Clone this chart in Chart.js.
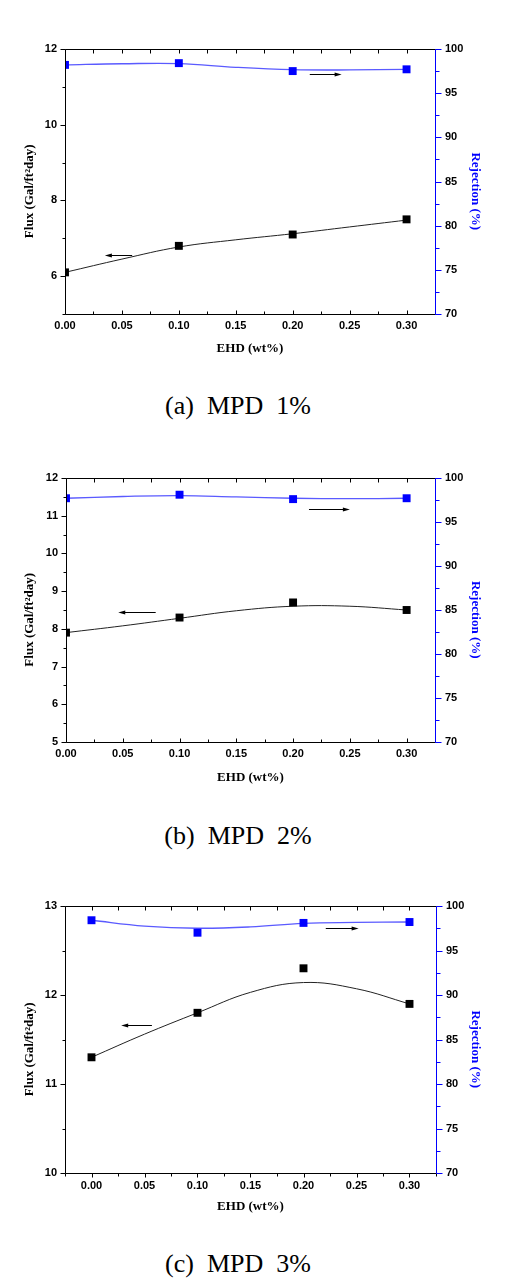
<!DOCTYPE html>
<html>
<head>
<meta charset="utf-8">
<script src="https://cdn.jsdelivr.net/npm/chart.js@4.4.1/dist/chart.umd.min.js"></script>
<style>
body { margin: 0; background: #fff; width: 517px; height: 1288px; position: relative; overflow: hidden; }
canvas { position: absolute; left: 0; }
.cap { position: absolute; left: 0; width: 476px; text-align: center; font-family: "Liberation Serif", serif; font-size: 26px; line-height: 30px; white-space: pre; color: #000; }
</style>
</head>
<body>
<canvas id="chart-a" width="517" height="360" style="top:0px"></canvas>
<div class="cap" style="top:391px">(a)  MPD  1%</div>
<canvas id="chart-b" width="517" height="360" style="top:429px"></canvas>
<div class="cap" style="top:821px">(b)  MPD  2%</div>
<canvas id="chart-c" width="517" height="362" style="top:857px"></canvas>
<div class="cap" style="top:1249px">(c)  MPD  3%</div>
<script>
let ehd = [0, 0.1, 0.2, 0.3];
let ehdFit = [0, 0.05, 0.1, 0.15, 0.2, 0.25, 0.3];

// (a) MPD 1%
let fluxA = [6.1, 6.8, 7.1, 7.5];
let rejA = [98.2, 98.4, 97.5, 97.7];
let fluxFitA = [6.1, 6.45, 6.77, 6.96, 7.12, 7.3, 7.48];
let rejFitA = [98.2, 98.33, 98.35, 97.93, 97.66, 97.63, 97.7];

// (b) MPD 2%
let fluxB = [7.9, 8.3, 8.7, 8.5];
let rejB = [97.7, 98.1, 97.6, 97.7];
let fluxFitB = [7.9, 8.08, 8.28, 8.48, 8.6, 8.6, 8.5];
let rejFitB = [97.7, 97.9, 98.0, 97.85, 97.7, 97.65, 97.7];

// (c) MPD 3%
let fluxC = [11.3, 11.8, 12.3, 11.9];
let rejC = [98.4, 97.0, 98.1, 98.2];
let fluxFitC = [11.3, 11.56, 11.8, 12.03, 12.14, 12.07, 11.9];
let rejFitC = [98.4, 97.75, 97.5, 97.65, 98.05, 98.15, 98.2];

// little arrows telling which curve goes with which axis (data units)
let arrowsA = [{ axis: 'y', from: 0.059, to: 0.035, at: 6.56 }, { axis: 'y2', from: 0.215, to: 0.243, at: 97.13 }];
let arrowsB = [{ axis: 'y', from: 0.079, to: 0.046, at: 8.44 }, { axis: 'y2', from: 0.214, to: 0.25, at: 96.44 }];
let arrowsC = [{ axis: 'y', from: 0.057, to: 0.028, at: 11.66 }, { axis: 'y2', from: 0.221, to: 0.252, at: 97.56 }];

const blue = '#0000ff';
const tickFont = { family: 'Liberation Sans', size: 11, weight: 'bold' };
const titleFont = { family: 'Liberation Serif', size: 13, weight: 'bold' };

function onStep(v, step) {
    let r = v / step;
    return Math.abs(r - Math.round(r)) < 1e-6;
}

function crisp(v) {
    return Math.round(v) + 0.5;
}

function line(ctx, x1, y1, x2, y2) {
    ctx.beginPath();
    ctx.moveTo(x1, y1);
    ctx.lineTo(x2, y2);
    ctx.stroke();
}

// frame, tick marks (major + minor) and the arrows
const framePlugin = {
    id: 'frame',
    afterDatasetsDraw(chart, args, opts) {
        const { ctx, chartArea: a, scales } = chart;
        let x = scales.x, yl = scales.y, yr = scales.y2;
        let top = crisp(a.top), bottom = crisp(a.bottom), left = crisp(a.left), right = crisp(a.right);
        ctx.save();
        ctx.lineWidth = 1;
        ctx.strokeStyle = '#000';
        line(ctx, left, top, right, top);
        line(ctx, left, top, left, bottom);
        line(ctx, left, bottom, right, bottom);

        x.ticks.forEach(t => {
            let px = crisp(x.getPixelForValue(t.value));
            let len = onStep(t.value, 0.05) ? 4 : 3;
            line(ctx, px, bottom, px, opts.xOut ? bottom + len : bottom - len);
            line(ctx, px, top, px, top + 4);
        });
        yl.ticks.forEach(t => {
            let py = crisp(yl.getPixelForValue(t.value));
            line(ctx, left, py, left - (onStep(t.value, opts.fluxStep) ? 5 : 3), py);
        });

        ctx.strokeStyle = blue;
        line(ctx, right, top, right, bottom);
        yr.ticks.forEach(t => {
            let py = crisp(yr.getPixelForValue(t.value));
            line(ctx, right, py, right + (onStep(t.value, 5) ? 6 : 4), py);
        });

        ctx.strokeStyle = '#000';
        ctx.fillStyle = '#000';
        opts.arrows.forEach(ar => {
            let y = crisp(scales[ar.axis].getPixelForValue(ar.at));
            let x1 = x.getPixelForValue(ar.from), x2 = x.getPixelForValue(ar.to);
            let dir = x2 > x1 ? 1 : -1;
            line(ctx, x1, y, x2 - dir * 5, y);
            ctx.beginPath();
            ctx.moveTo(x2, y);
            ctx.lineTo(x2 - dir * 7, y - 2);
            ctx.lineTo(x2 - dir * 7, y + 2);
            ctx.closePath();
            ctx.fill();
        });
        ctx.restore();
    }
};

function points(xs, ys) {
    return xs.map((x, i) => ({ x: x, y: ys[i] }));
}

function makePanel(id, p) {
    let canvas = document.getElementById(id);
    let H = canvas.height;
    return new Chart(canvas, {
        type: 'scatter',
        data: {
            datasets: [
                { data: points(ehd, p.flux), yAxisID: 'y', pointStyle: 'rect', pointRadius: 5.6, pointBorderWidth: 0, pointBackgroundColor: '#000', clip: 0 },
                { data: points(ehd, p.rej), yAxisID: 'y2', pointStyle: 'rect', pointRadius: 5.6, pointBorderWidth: 0, pointBackgroundColor: blue, clip: 0 },
                { data: points(ehdFit, p.fluxFit), yAxisID: 'y', showLine: true, pointRadius: 0, borderColor: '#222', borderWidth: 1, tension: 0.4 },
                { data: points(ehdFit, p.rejFit), yAxisID: 'y2', showLine: true, pointRadius: 0, borderColor: '#5a5aff', borderWidth: 1.3, tension: 0.4 }
            ]
        },
        options: {
            responsive: false,
            animation: false,
            devicePixelRatio: 1,
            layout: { padding: { top: 49, left: 0, right: 0, bottom: 0 }, autoPadding: false },
            plugins: {
                legend: { display: false },
                tooltip: { enabled: false },
                frame: { arrows: p.arrows, xOut: p.xOut, fluxStep: p.fluxStep }
            },
            scales: {
                x: {
                    type: 'linear', position: 'bottom', min: p.xMin, max: 0.325,
                    afterFit: s => { s.height = H - p.bottom; },
                    grid: { display: false, drawTicks: false },
                    border: { display: false },
                    ticks: {
                        stepSize: 0.025, autoSkip: false, maxRotation: 0, padding: p.xPad, color: '#000', font: tickFont,
                        callback: v => onStep(v, 0.05) ? v.toFixed(2) : ''
                    },
                    title: { display: true, text: 'EHD (wt%)', color: '#000', font: titleFont, padding: { top: 0, bottom: p.xTitle - 7.8 } }
                },
                y: {
                    type: 'linear', position: 'left', min: p.fluxMin, max: p.fluxMax,
                    afterFit: s => { s.width = p.leftW; },
                    grid: { display: false, drawTicks: false },
                    border: { display: false },
                    ticks: {
                        stepSize: p.fluxMinor, autoSkip: false, padding: 8, color: '#000', font: tickFont,
                        callback: v => onStep(v, p.fluxStep) ? String(v) : ''
                    },
                    title: { display: true, text: 'Flux (Gal/ft\u00b2day)      ', color: '#000', font: titleFont, padding: { top: 22, bottom: 0 } }
                },
                y2: {
                    type: 'linear', position: 'right', min: 70, max: 100,
                    afterFit: s => { s.width = p.rightW; },
                    grid: { display: false, drawTicks: false },
                    border: { display: false },
                    ticks: {
                        stepSize: 2.5, autoSkip: false, padding: 10, color: '#000', font: tickFont,
                        callback: v => onStep(v, 5) ? String(v) : ''
                    },
                    title: { display: true, text: '      Rejection (%)', color: blue, font: titleFont, padding: { top: 34, bottom: 0 } }
                }
            }
        },
        plugins: [framePlugin]
    });
}

makePanel('chart-a', {
    flux: fluxA, rej: rejA, fluxFit: fluxFitA, rejFit: rejFitA, arrows: arrowsA,
    xMin: 0, fluxMin: 5, fluxMax: 12, fluxMinor: 1, fluxStep: 2,
    bottom: 314, leftW: 65, rightW: 82, xPad: 5, xTitle: 11, xOut: false
});
makePanel('chart-b', {
    flux: fluxB, rej: rejB, fluxFit: fluxFitB, rejFit: rejFitB, arrows: arrowsB,
    xMin: 0, fluxMin: 5, fluxMax: 12, fluxMinor: 0.5, fluxStep: 1,
    bottom: 313, leftW: 66, rightW: 82, xPad: 5, xTitle: 11, xOut: false
});
makePanel('chart-c', {
    flux: fluxC, rej: rejC, fluxFit: fluxFitC, rejFit: rejFitC, arrows: arrowsC,
    xMin: -0.025, fluxMin: 10, fluxMax: 13, fluxMinor: 0.5, fluxStep: 1,
    bottom: 316, leftW: 65, rightW: 81, xPad: 6, xTitle: 12.3, xOut: true
});
</script>
</body>
</html>
